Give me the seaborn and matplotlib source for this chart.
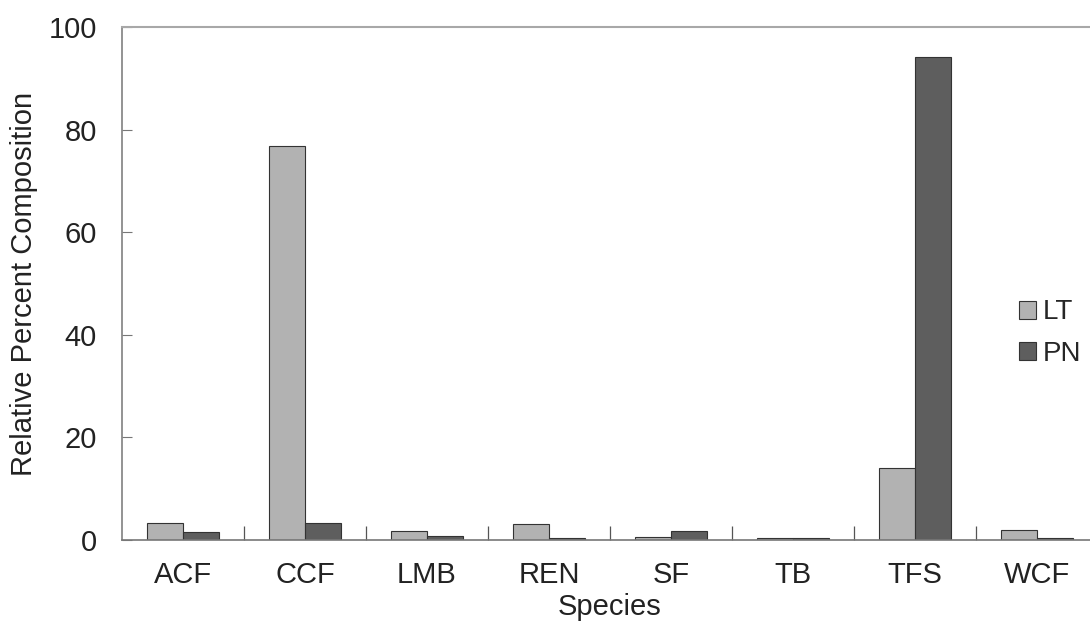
import pandas as pd
import matplotlib.pyplot as plt
import seaborn as sns
from matplotlib.ticker import FixedLocator

# Relative percent composition of fish species, two sites
species = ['ACF', 'CCF', 'LMB', 'REN', 'SF', 'TB', 'TFS', 'WCF']
lt_values = [3.3, 76.8, 1.8, 3.2, 0.5, 0.4, 14.0, 1.9]
pn_values = [1.5, 3.3, 0.7, 0.3, 1.7, 0.3, 94.2, 0.4]
groups = ['LT', 'PN']

df = pd.DataFrame({
    'Species': species * 2,
    'Value': lt_values + pn_values,
    'Site': ['LT'] * len(species) + ['PN'] * len(species),
})

sns.set_style('white')
plt.rcParams['font.family'] = ['Liberation Sans', 'DejaVu Sans']

fig = plt.figure(figsize=(10.9, 6.33), dpi=100)
# the original image is cropped on the right, so the axes run past the edge
ax = fig.add_axes([0.112, 0.147, 0.895, 0.810])

colors = ['#b2b2b2', '#5e5e5e']
sns.barplot(data=df, x='Species', y='Value', hue='Site', hue_order=groups,
            palette=colors, edgecolor='#333333', linewidth=0.8,
            width=0.59, ax=ax, legend=False)

ax.set_ylim(0, 100)
ax.set_xlim(-0.5, len(species) - 0.5)
ax.set_yticks([0, 20, 40, 60, 80, 100])
ax.tick_params(axis='y', labelsize=21, direction='in', length=7, width=0.8,
               pad=18, color='#777777', left=True, labelcolor='#222222')
ax.tick_params(axis='x', which='major', labelsize=21, length=0, pad=15,
               labelcolor='#222222')
ax.xaxis.set_minor_locator(FixedLocator([i + 0.5 for i in range(len(species) - 1)]))
ax.tick_params(axis='x', which='minor', direction='in', length=10, width=0.9,
               color='#555555', bottom=True)

ax.spines['right'].set_visible(False)
ax.spines['top'].set_color('#a8a8a8')
ax.spines['top'].set_linewidth(1.5)
ax.spines['left'].set_color('#808080')
ax.spines['left'].set_linewidth(1.2)
ax.spines['bottom'].set_color('#777777')
ax.spines['bottom'].set_linewidth(1.2)

ax.set_xlabel('Species', fontsize=21, labelpad=3, color='#222222')
ax.set_ylabel('Relative Percent Composition', fontsize=21, labelpad=8, color='#222222')

handles = [plt.Rectangle((0, 0), 1, 1, facecolor=c, edgecolor='#333333', linewidth=0.8)
           for c in colors]
fig.legend(handles, groups, loc='center left', bbox_to_anchor=(1019 / 1090, 1 - 333 / 633),
           frameon=False, fontsize=20, handlelength=0.62, handleheight=0.62,
           handletextpad=0.22, labelspacing=0.55, borderpad=0, borderaxespad=0)

fig.savefig('out.png', dpi=100)
